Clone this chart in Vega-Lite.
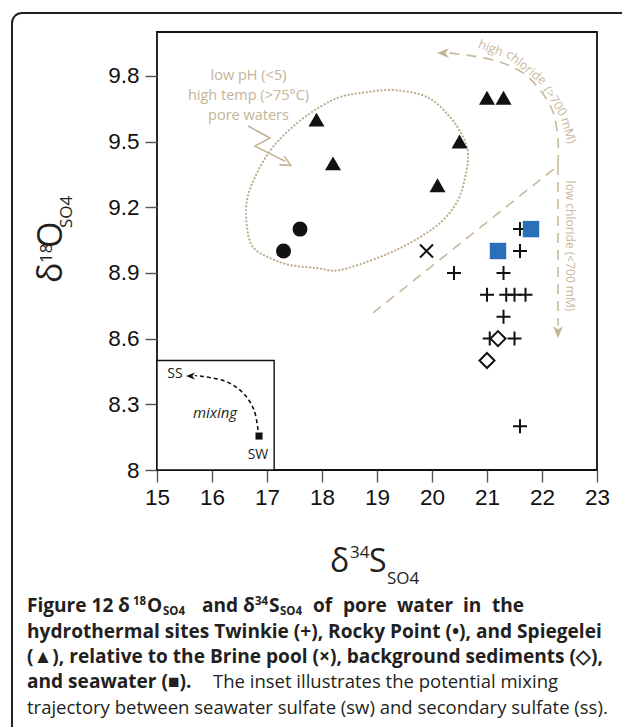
{
  "$schema": "https://vega.github.io/schema/vega-lite/v6.json",
  "width": 440,
  "height": 438,
  "autosize": {"type": "none"},
  "padding": {"left": 157, "top": 32, "right": 25, "bottom": 257},
  "background": "white",
  "config": {
    "view": {"stroke": "#111", "strokeWidth": 1.8},
    "text": {"font": "Open Sans", "color": "#231f20"}
  },
  "data": {"values": [{}]},
  "datasets": {
    "samples": [
      {"site": "Twinkie", "d34S": 21.6, "d18O": 9.1},
      {"site": "Twinkie", "d34S": 21.6, "d18O": 9.0},
      {"site": "Twinkie", "d34S": 20.4, "d18O": 8.9},
      {"site": "Twinkie", "d34S": 21.3, "d18O": 8.9},
      {"site": "Twinkie", "d34S": 21.0, "d18O": 8.8},
      {"site": "Twinkie", "d34S": 21.35, "d18O": 8.8},
      {"site": "Twinkie", "d34S": 21.5, "d18O": 8.8},
      {"site": "Twinkie", "d34S": 21.7, "d18O": 8.8},
      {"site": "Twinkie", "d34S": 21.3, "d18O": 8.7},
      {"site": "Twinkie", "d34S": 21.05, "d18O": 8.6},
      {"site": "Twinkie", "d34S": 21.5, "d18O": 8.6},
      {"site": "Twinkie", "d34S": 21.6, "d18O": 8.2},
      {"site": "Rocky Point", "d34S": 17.3, "d18O": 9.0},
      {"site": "Rocky Point", "d34S": 17.6, "d18O": 9.1},
      {"site": "Spiegelei", "d34S": 17.9, "d18O": 9.6},
      {"site": "Spiegelei", "d34S": 18.2, "d18O": 9.4},
      {"site": "Spiegelei", "d34S": 20.1, "d18O": 9.3},
      {"site": "Spiegelei", "d34S": 20.5, "d18O": 9.5},
      {"site": "Spiegelei", "d34S": 21.0, "d18O": 9.7},
      {"site": "Spiegelei", "d34S": 21.3, "d18O": 9.7},
      {"site": "Brine pool", "d34S": 19.9, "d18O": 9.0},
      {"site": "Background", "d34S": 21.2, "d18O": 8.6},
      {"site": "Background", "d34S": 21.0, "d18O": 8.5},
      {"site": "Seawater", "d34S": 21.8, "d18O": 9.1},
      {"site": "Seawater", "d34S": 21.2, "d18O": 9.0}
    ],
    "ellipse": [
      {"k": 0, "x": 18.691, "y": 9.721},
      {"k": 1, "x": 19.291, "y": 9.735},
      {"k": 2, "x": 19.909, "y": 9.703},
      {"k": 3, "x": 20.327, "y": 9.612},
      {"k": 4, "x": 20.564, "y": 9.521},
      {"k": 5, "x": 20.655, "y": 9.447},
      {"k": 6, "x": 20.618, "y": 9.356},
      {"k": 7, "x": 20.473, "y": 9.233},
      {"k": 8, "x": 20.145, "y": 9.128},
      {"k": 9, "x": 19.6, "y": 9.037},
      {"k": 10, "x": 19.055, "y": 8.973},
      {"k": 11, "x": 18.327, "y": 8.913},
      {"k": 12, "x": 17.909, "y": 8.922},
      {"k": 13, "x": 17.418, "y": 8.936},
      {"k": 14, "x": 17.055, "y": 8.968},
      {"k": 15, "x": 16.745, "y": 9.018},
      {"k": 16, "x": 16.636, "y": 9.11},
      {"k": 17, "x": 16.636, "y": 9.233},
      {"k": 18, "x": 16.818, "y": 9.356},
      {"k": 19, "x": 17.109, "y": 9.475},
      {"k": 20, "x": 17.545, "y": 9.584},
      {"k": 21, "x": 17.964, "y": 9.658},
      {"k": 22, "x": 18.327, "y": 9.703}
    ],
    "bolt": [
      {"k": 0, "x": 16.655, "y": 9.571},
      {"k": 1, "x": 17.055, "y": 9.516},
      {"k": 2, "x": 16.782, "y": 9.479},
      {"k": 3, "x": 17.33, "y": 9.41}
    ],
    "arcHigh": [
      {"k": 0, "x": 22.291, "y": 9.393},
      {"k": 1, "x": 22.291, "y": 9.507},
      {"k": 2, "x": 22.2, "y": 9.635},
      {"k": 3, "x": 21.964, "y": 9.735},
      {"k": 4, "x": 21.655, "y": 9.813},
      {"k": 5, "x": 21.236, "y": 9.863},
      {"k": 6, "x": 20.745, "y": 9.89},
      {"k": 7, "x": 20.3, "y": 9.904}
    ],
    "lineLow": [
      {"k": 0, "x": 22.291, "y": 9.393},
      {"k": 1, "x": 22.291, "y": 8.66}
    ],
    "divider": [
      {"k": 0, "x": 18.927, "y": 8.717},
      {"k": 1, "x": 22.236, "y": 9.379}
    ],
    "insetCurve": [
      {"k": 0, "x": 16.836, "y": 8.183},
      {"k": 1, "x": 16.764, "y": 8.274},
      {"k": 2, "x": 16.564, "y": 8.352},
      {"k": 3, "x": 16.236, "y": 8.406},
      {"k": 4, "x": 15.782, "y": 8.429},
      {"k": 5, "x": 15.69, "y": 8.429}
    ]
  },
  "layer": [
    {
      "mark": {"type": "rect", "fill": "transparent", "stroke": "#231f20", "strokeWidth": 2, "cornerRadius": 10},
      "encoding": {
        "x": {"datum": 12.364, "type": "quantitative", "title": null, "scale": {"domain": [15, 23], "nice": false, "zero": false},
          "axis": {"title": null, "values": [15, 16, 17, 18, 19, 20, 21, 22, 23], "format": "d", "domain": false, "grid": false, "tickColor": "#555", "tickWidth": 1.4, "tickSize": 12, "labelFont": "Liberation Sans", "labelFontSize": 22.5, "labelColor": "#111", "labelPadding": 4, "labelFlush": false, "labelOverlap": false, "labelBound": false}},
        "x2": {"datum": 24.9},
        "y": {"datum": 10.087, "type": "quantitative", "title": null, "scale": {"domain": [8, 10], "nice": false, "zero": false},
          "axis": {"title": null, "values": [8, 8.3, 8.6, 8.9, 9.2, 9.5, 9.8], "format": ".2~f", "domain": false, "grid": false, "tickColor": "#555", "tickWidth": 1.4, "tickSize": 12, "labelFont": "Liberation Sans", "labelFontSize": 22.5, "labelColor": "#111", "labelPadding": 6, "labelFlush": false, "labelOverlap": false, "labelBound": false}},
        "y2": {"datum": 6.49}
      }
    },
    {
      "mark": {"type": "rect", "fill": "white", "stroke": "#111", "strokeWidth": 1.4},
      "encoding": {
        "x": {"datum": 15, "type": "quantitative", "title": null, "scale": {"domain": [15, 23], "nice": false, "zero": false}},
        "x2": {"datum": 17.13},
        "y": {"datum": 8, "type": "quantitative", "title": null, "scale": {"domain": [8, 10], "nice": false, "zero": false}},
        "y2": {"datum": 8.5}
      }
    },
    {
      "data": {"name": "ellipse"},
      "mark": {"type": "line", "interpolate": "cardinal-closed", "color": "#bfae8e", "strokeWidth": 2.2, "strokeCap": "round", "strokeDash": [0.1, 3.6]},
      "encoding": {
        "x": {"field": "x", "type": "quantitative", "title": null, "scale": {"domain": [15, 23], "nice": false, "zero": false}},
        "y": {"field": "y", "type": "quantitative", "title": null, "scale": {"domain": [8, 10], "nice": false, "zero": false}},
        "order": {"field": "k"}
      }
    },
    {
      "data": {"name": "bolt"},
      "mark": {"type": "line", "color": "#c4b497", "strokeWidth": 1.6},
      "encoding": {
        "x": {"field": "x", "type": "quantitative", "title": null, "scale": {"domain": [15, 23], "nice": false, "zero": false}},
        "y": {"field": "y", "type": "quantitative", "title": null, "scale": {"domain": [8, 10], "nice": false, "zero": false}},
        "order": {"field": "k"}
      }
    },
    {
      "mark": {"type": "point", "shape": "M-1,1L0,-1L1,1", "filled": false, "stroke": "#c4b497", "strokeWidth": 1.6, "size": 100, "angle": 119, "opacity": 1},
      "encoding": {
        "x": {"datum": 17.35, "type": "quantitative", "title": null, "scale": {"domain": [15, 23], "nice": false, "zero": false}},
        "y": {"datum": 9.402, "type": "quantitative", "title": null, "scale": {"domain": [8, 10], "nice": false, "zero": false}}
      }
    },
    {
      "data": {"name": "arcHigh"},
      "mark": {"type": "line", "interpolate": "cardinal", "color": "#c9b99b", "strokeWidth": 1.6, "strokeDash": [10, 7]},
      "encoding": {
        "x": {"field": "x", "type": "quantitative", "title": null, "scale": {"domain": [15, 23], "nice": false, "zero": false}},
        "y": {"field": "y", "type": "quantitative", "title": null, "scale": {"domain": [8, 10], "nice": false, "zero": false}},
        "order": {"field": "k"}
      }
    },
    {
      "data": {"name": "lineLow"},
      "mark": {"type": "line", "color": "#c9b99b", "strokeWidth": 1.6, "strokeDash": [10, 7]},
      "encoding": {
        "x": {"field": "x", "type": "quantitative", "title": null, "scale": {"domain": [15, 23], "nice": false, "zero": false}},
        "y": {"field": "y", "type": "quantitative", "title": null, "scale": {"domain": [8, 10], "nice": false, "zero": false}},
        "order": {"field": "k"}
      }
    },
    {
      "data": {"name": "divider"},
      "mark": {"type": "line", "color": "#c9b99b", "strokeWidth": 1.6, "strokeDash": [10, 7]},
      "encoding": {
        "x": {"field": "x", "type": "quantitative", "title": null, "scale": {"domain": [15, 23], "nice": false, "zero": false}},
        "y": {"field": "y", "type": "quantitative", "title": null, "scale": {"domain": [8, 10], "nice": false, "zero": false}},
        "order": {"field": "k"}
      }
    },
    {
      "mark": {"type": "point", "shape": "M-1,0L1,-0.8L0.4,0L1,0.8Z", "filled": true, "fill": "#c4b497", "size": 150, "opacity": 1},
      "encoding": {
        "x": {"datum": 20.2, "type": "quantitative", "title": null, "scale": {"domain": [15, 23], "nice": false, "zero": false}},
        "y": {"datum": 9.904, "type": "quantitative", "title": null, "scale": {"domain": [8, 10], "nice": false, "zero": false}}
      }
    },
    {
      "mark": {"type": "point", "shape": "M-1,0L1,-0.8L0.4,0L1,0.8Z", "filled": true, "fill": "#c4b497", "size": 150, "angle": 270, "opacity": 1},
      "encoding": {
        "x": {"datum": 22.291, "type": "quantitative", "title": null, "scale": {"domain": [15, 23], "nice": false, "zero": false}},
        "y": {"datum": 8.63, "type": "quantitative", "title": null, "scale": {"domain": [8, 10], "nice": false, "zero": false}}
      }
    },
    {
      "mark": {"type": "text", "text": ["low pH (<5)", "high temp (>75°C)", "pore waters"], "lineHeight": 20, "fontSize": 14.5, "color": "#c4b497", "align": "center", "baseline": "middle"},
      "encoding": {
        "x": {"datum": 16.664, "type": "quantitative", "title": null, "scale": {"domain": [15, 23], "nice": false, "zero": false}},
        "y": {"datum": 9.799, "type": "quantitative", "title": null, "scale": {"domain": [8, 10], "nice": false, "zero": false}}
      }
    },
    {
      "mark": {"type": "text", "text": "high", "fontSize": 12.5, "color": "#c9b99b", "align": "center", "baseline": "middle", "angle": 20.5},
      "encoding": {
        "x": {"datum": 21.069, "type": "quantitative", "title": null, "scale": {"domain": [15, 23], "nice": false, "zero": false}},
        "y": {"datum": 9.926, "type": "quantitative", "title": null, "scale": {"domain": [8, 10], "nice": false, "zero": false}}
      }
    },
    {
      "mark": {"type": "text", "text": "chloride", "fontSize": 12.5, "color": "#c9b99b", "align": "center", "baseline": "middle", "angle": 38.8},
      "encoding": {
        "x": {"datum": 21.713, "type": "quantitative", "title": null, "scale": {"domain": [15, 23], "nice": false, "zero": false}},
        "y": {"datum": 9.838, "type": "quantitative", "title": null, "scale": {"domain": [8, 10], "nice": false, "zero": false}}
      }
    },
    {
      "mark": {"type": "text", "text": "(>700", "fontSize": 12.5, "color": "#c9b99b", "align": "center", "baseline": "middle", "angle": 58.5},
      "encoding": {
        "x": {"datum": 22.238, "type": "quantitative", "title": null, "scale": {"domain": [15, 23], "nice": false, "zero": false}},
        "y": {"datum": 9.684, "type": "quantitative", "title": null, "scale": {"domain": [8, 10], "nice": false, "zero": false}}
      }
    },
    {
      "mark": {"type": "text", "text": "mM)", "fontSize": 12.5, "color": "#c9b99b", "align": "center", "baseline": "middle", "angle": 73},
      "encoding": {
        "x": {"datum": 22.48, "type": "quantitative", "title": null, "scale": {"domain": [15, 23], "nice": false, "zero": false}},
        "y": {"datum": 9.55, "type": "quantitative", "title": null, "scale": {"domain": [8, 10], "nice": false, "zero": false}}
      }
    },
    {
      "mark": {"type": "text", "text": "low chloride (<700 mM)", "fontSize": 12, "color": "#c9b99b", "align": "center", "baseline": "middle", "angle": 90},
      "encoding": {
        "x": {"datum": 22.509, "type": "quantitative", "title": null, "scale": {"domain": [15, 23], "nice": false, "zero": false}},
        "y": {"datum": 9.023, "type": "quantitative", "title": null, "scale": {"domain": [8, 10], "nice": false, "zero": false}}
      }
    },
    {
      "data": {"name": "insetCurve"},
      "mark": {"type": "line", "interpolate": "cardinal", "color": "#111", "strokeWidth": 1.6, "strokeDash": [4, 3]},
      "encoding": {
        "x": {"field": "x", "type": "quantitative", "title": null, "scale": {"domain": [15, 23], "nice": false, "zero": false}},
        "y": {"field": "y", "type": "quantitative", "title": null, "scale": {"domain": [8, 10], "nice": false, "zero": false}},
        "order": {"field": "k"}
      }
    },
    {
      "mark": {"type": "point", "shape": "M-1,0L1,-0.8L0.4,0L1,0.8Z", "filled": true, "fill": "#111", "size": 80, "opacity": 1},
      "encoding": {
        "x": {"datum": 15.61, "type": "quantitative", "title": null, "scale": {"domain": [15, 23], "nice": false, "zero": false}},
        "y": {"datum": 8.429, "type": "quantitative", "title": null, "scale": {"domain": [8, 10], "nice": false, "zero": false}}
      }
    },
    {
      "mark": {"type": "point", "shape": "square", "filled": true, "fill": "#111", "size": 50, "opacity": 1},
      "encoding": {
        "x": {"datum": 16.855, "type": "quantitative", "title": null, "scale": {"domain": [15, 23], "nice": false, "zero": false}},
        "y": {"datum": 8.155, "type": "quantitative", "title": null, "scale": {"domain": [8, 10], "nice": false, "zero": false}}
      }
    },
    {
      "mark": {"type": "text", "text": "SS", "fontSize": 14, "align": "center", "baseline": "middle"},
      "encoding": {
        "x": {"datum": 15.327, "type": "quantitative", "title": null, "scale": {"domain": [15, 23], "nice": false, "zero": false}},
        "y": {"datum": 8.438, "type": "quantitative", "title": null, "scale": {"domain": [8, 10], "nice": false, "zero": false}}
      }
    },
    {
      "mark": {"type": "text", "text": "mixing", "fontSize": 15, "fontStyle": "italic", "align": "center", "baseline": "middle"},
      "encoding": {
        "x": {"datum": 16.055, "type": "quantitative", "title": null, "scale": {"domain": [15, 23], "nice": false, "zero": false}},
        "y": {"datum": 8.26, "type": "quantitative", "title": null, "scale": {"domain": [8, 10], "nice": false, "zero": false}}
      }
    },
    {
      "mark": {"type": "text", "text": "SW", "fontSize": 14, "align": "center", "baseline": "middle"},
      "encoding": {
        "x": {"datum": 16.836, "type": "quantitative", "title": null, "scale": {"domain": [15, 23], "nice": false, "zero": false}},
        "y": {"datum": 8.068, "type": "quantitative", "title": null, "scale": {"domain": [8, 10], "nice": false, "zero": false}}
      }
    },
    {
      "data": {"name": "samples"},
      "transform": [{"filter": "datum.site === 'Twinkie'"}],
      "mark": {"type": "point", "shape": "M-1,0H1M0,-1V1", "filled": false, "stroke": "#111", "strokeWidth": 2, "size": 196, "opacity": 1},
      "encoding": {
        "x": {"field": "d34S", "type": "quantitative", "title": null, "scale": {"domain": [15, 23], "nice": false, "zero": false}},
        "y": {"field": "d18O", "type": "quantitative", "title": null, "scale": {"domain": [8, 10], "nice": false, "zero": false}}
      }
    },
    {
      "data": {"name": "samples"},
      "transform": [{"filter": "datum.site === 'Rocky Point'"}],
      "mark": {"type": "point", "shape": "circle", "filled": true, "fill": "#111", "size": 225, "opacity": 1},
      "encoding": {
        "x": {"field": "d34S", "type": "quantitative", "title": null, "scale": {"domain": [15, 23], "nice": false, "zero": false}},
        "y": {"field": "d18O", "type": "quantitative", "title": null, "scale": {"domain": [8, 10], "nice": false, "zero": false}}
      }
    },
    {
      "data": {"name": "samples"},
      "transform": [{"filter": "datum.site === 'Spiegelei'"}],
      "mark": {"type": "point", "shape": "triangle-up", "filled": true, "fill": "#111", "size": 256, "opacity": 1},
      "encoding": {
        "x": {"field": "d34S", "type": "quantitative", "title": null, "scale": {"domain": [15, 23], "nice": false, "zero": false}},
        "y": {"field": "d18O", "type": "quantitative", "title": null, "scale": {"domain": [8, 10], "nice": false, "zero": false}}
      }
    },
    {
      "data": {"name": "samples"},
      "transform": [{"filter": "datum.site === 'Brine pool'"}],
      "mark": {"type": "point", "shape": "M-1,-1L1,1M-1,1L1,-1", "filled": false, "stroke": "#111", "strokeWidth": 2, "size": 169, "opacity": 1},
      "encoding": {
        "x": {"field": "d34S", "type": "quantitative", "title": null, "scale": {"domain": [15, 23], "nice": false, "zero": false}},
        "y": {"field": "d18O", "type": "quantitative", "title": null, "scale": {"domain": [8, 10], "nice": false, "zero": false}}
      }
    },
    {
      "data": {"name": "samples"},
      "transform": [{"filter": "datum.site === 'Background'"}],
      "mark": {"type": "point", "shape": "M0,-1L1,0L0,1L-1,0Z", "filled": true, "fill": "white", "stroke": "#111", "strokeWidth": 2, "size": 225, "opacity": 1},
      "encoding": {
        "x": {"field": "d34S", "type": "quantitative", "title": null, "scale": {"domain": [15, 23], "nice": false, "zero": false}},
        "y": {"field": "d18O", "type": "quantitative", "title": null, "scale": {"domain": [8, 10], "nice": false, "zero": false}}
      }
    },
    {
      "data": {"name": "samples"},
      "transform": [{"filter": "datum.site === 'Seawater'"}],
      "mark": {"type": "point", "shape": "square", "filled": true, "fill": "#2a70b8", "size": 270, "opacity": 1},
      "encoding": {
        "x": {"field": "d34S", "type": "quantitative", "title": null, "scale": {"domain": [15, 23], "nice": false, "zero": false}},
        "y": {"field": "d18O", "type": "quantitative", "title": null, "scale": {"domain": [8, 10], "nice": false, "zero": false}}
      }
    },
    {
      "layer": [
        {"mark": {"type": "text", "text": "δ", "fontSize": 34, "angle": 270, "align": "left", "baseline": "alphabetic"},
          "encoding": {"x": {"datum": 13.273, "type": "quantitative", "title": null}, "y": {"datum": 8.854, "type": "quantitative", "title": null}}},
        {"mark": {"type": "text", "text": "18", "fontSize": 17, "angle": 270, "align": "left", "baseline": "alphabetic"},
          "encoding": {"x": {"datum": 13.091, "type": "quantitative", "title": null}, "y": {"datum": 8.945, "type": "quantitative", "title": null}}},
        {"mark": {"type": "text", "text": "O", "fontSize": 34, "angle": 270, "align": "left", "baseline": "alphabetic"},
          "encoding": {"x": {"datum": 13.273, "type": "quantitative", "title": null}, "y": {"datum": 9.014, "type": "quantitative", "title": null}}},
        {"mark": {"type": "text", "text": "SO4", "fontSize": 17, "angle": 270, "align": "left", "baseline": "alphabetic"},
          "encoding": {"x": {"datum": 13.455, "type": "quantitative", "title": null}, "y": {"datum": 9.105, "type": "quantitative", "title": null}}},
        {"mark": {"type": "text", "text": "δ", "fontSize": 32, "align": "left", "baseline": "alphabetic"},
          "encoding": {"x": {"datum": 18.145, "type": "quantitative", "title": null}, "y": {"datum": 7.534, "type": "quantitative", "title": null}}},
        {"mark": {"type": "text", "text": "34", "fontSize": 17, "align": "left", "baseline": "alphabetic"},
          "encoding": {"x": {"datum": 18.509, "type": "quantitative", "title": null}, "y": {"datum": 7.598, "type": "quantitative", "title": null}}},
        {"mark": {"type": "text", "text": "S", "fontSize": 32, "align": "left", "baseline": "alphabetic"},
          "encoding": {"x": {"datum": 18.855, "type": "quantitative", "title": null}, "y": {"datum": 7.534, "type": "quantitative", "title": null}}},
        {"mark": {"type": "text", "text": "SO4", "fontSize": 17, "align": "left", "baseline": "alphabetic"},
          "encoding": {"x": {"datum": 19.182, "type": "quantitative", "title": null}, "y": {"datum": 7.479, "type": "quantitative", "title": null}}},
        {"mark": {"type": "text", "text": "Figure 12", "fontSize": 19.1, "fontWeight": "bold", "align": "left", "baseline": "alphabetic"},
          "encoding": {"x": {"datum": 12.636, "type": "quantitative", "title": null}, "y": {"datum": 7.352, "type": "quantitative", "title": null}}},
        {"mark": {"type": "text", "text": "δ", "fontSize": 19.1, "fontWeight": "bold", "align": "left", "baseline": "alphabetic"},
          "encoding": {"x": {"datum": 14.291, "type": "quantitative", "title": null}, "y": {"datum": 7.352, "type": "quantitative", "title": null}}},
        {"mark": {"type": "text", "text": "18", "fontSize": 11.5, "fontWeight": "bold", "align": "left", "baseline": "alphabetic"},
          "encoding": {"x": {"datum": 14.564, "type": "quantitative", "title": null}, "y": {"datum": 7.384, "type": "quantitative", "title": null}}},
        {"mark": {"type": "text", "text": "O", "fontSize": 19.1, "fontWeight": "bold", "align": "left", "baseline": "alphabetic"},
          "encoding": {"x": {"datum": 14.818, "type": "quantitative", "title": null}, "y": {"datum": 7.352, "type": "quantitative", "title": null}}},
        {"mark": {"type": "text", "text": "SO4", "fontSize": 11.5, "fontWeight": "bold", "align": "left", "baseline": "alphabetic"},
          "encoding": {"x": {"datum": 15.109, "type": "quantitative", "title": null}, "y": {"datum": 7.338, "type": "quantitative", "title": null}}},
        {"mark": {"type": "text", "text": "and", "fontSize": 19.1, "fontWeight": "bold", "align": "left", "baseline": "alphabetic"},
          "encoding": {"x": {"datum": 15.818, "type": "quantitative", "title": null}, "y": {"datum": 7.352, "type": "quantitative", "title": null}}},
        {"mark": {"type": "text", "text": "δ", "fontSize": 19.1, "fontWeight": "bold", "align": "left", "baseline": "alphabetic"},
          "encoding": {"x": {"datum": 16.564, "type": "quantitative", "title": null}, "y": {"datum": 7.352, "type": "quantitative", "title": null}}},
        {"mark": {"type": "text", "text": "34", "fontSize": 11.5, "fontWeight": "bold", "align": "left", "baseline": "alphabetic"},
          "encoding": {"x": {"datum": 16.782, "type": "quantitative", "title": null}, "y": {"datum": 7.384, "type": "quantitative", "title": null}}},
        {"mark": {"type": "text", "text": "S", "fontSize": 19.1, "fontWeight": "bold", "align": "left", "baseline": "alphabetic"},
          "encoding": {"x": {"datum": 17.036, "type": "quantitative", "title": null}, "y": {"datum": 7.352, "type": "quantitative", "title": null}}},
        {"mark": {"type": "text", "text": "SO4", "fontSize": 11.5, "fontWeight": "bold", "align": "left", "baseline": "alphabetic"},
          "encoding": {"x": {"datum": 17.236, "type": "quantitative", "title": null}, "y": {"datum": 7.338, "type": "quantitative", "title": null}}},
        {"mark": {"type": "text", "text": "of", "fontSize": 19.1, "fontWeight": "bold", "align": "left", "baseline": "alphabetic"},
          "encoding": {"x": {"datum": 17.836, "type": "quantitative", "title": null}, "y": {"datum": 7.352, "type": "quantitative", "title": null}}},
        {"mark": {"type": "text", "text": "pore", "fontSize": 19.1, "fontWeight": "bold", "align": "left", "baseline": "alphabetic"},
          "encoding": {"x": {"datum": 18.382, "type": "quantitative", "title": null}, "y": {"datum": 7.352, "type": "quantitative", "title": null}}},
        {"mark": {"type": "text", "text": "water", "fontSize": 19.1, "fontWeight": "bold", "align": "left", "baseline": "alphabetic"},
          "encoding": {"x": {"datum": 19.364, "type": "quantitative", "title": null}, "y": {"datum": 7.352, "type": "quantitative", "title": null}}},
        {"mark": {"type": "text", "text": "in", "fontSize": 19.1, "fontWeight": "bold", "align": "left", "baseline": "alphabetic"},
          "encoding": {"x": {"datum": 20.564, "type": "quantitative", "title": null}, "y": {"datum": 7.352, "type": "quantitative", "title": null}}},
        {"mark": {"type": "text", "text": "the", "fontSize": 19.1, "fontWeight": "bold", "align": "left", "baseline": "alphabetic"},
          "encoding": {"x": {"datum": 21.091, "type": "quantitative", "title": null}, "y": {"datum": 7.352, "type": "quantitative", "title": null}}},
        {"mark": {"type": "text", "text": "hydrothermal sites Twinkie (+), Rocky Point (•), and Spiegelei", "fontSize": 19.1, "fontWeight": "bold", "align": "left", "baseline": "alphabetic"},
          "encoding": {"x": {"datum": 12.636, "type": "quantitative", "title": null}, "y": {"datum": 7.233, "type": "quantitative", "title": null}}},
        {"mark": {"type": "text", "text": "(▲), relative to the Brine pool (×), background sediments (◇),", "fontSize": 19.1, "fontWeight": "bold", "align": "left", "baseline": "alphabetic"},
          "encoding": {"x": {"datum": 12.636, "type": "quantitative", "title": null}, "y": {"datum": 7.119, "type": "quantitative", "title": null}}},
        {"mark": {"type": "text", "text": "and seawater (■).", "fontSize": 19.1, "fontWeight": "bold", "align": "left", "baseline": "alphabetic"},
          "encoding": {"x": {"datum": 12.636, "type": "quantitative", "title": null}, "y": {"datum": 7.005, "type": "quantitative", "title": null}}},
        {"mark": {"type": "text", "text": "The inset illustrates the potential mixing", "fontSize": 18.5, "align": "left", "baseline": "alphabetic"},
          "encoding": {"x": {"datum": 16.018, "type": "quantitative", "title": null}, "y": {"datum": 7.005, "type": "quantitative", "title": null}}},
        {"mark": {"type": "text", "text": "trajectory between seawater sulfate (sw) and secondary sulfate (ss).", "fontSize": 18.5, "align": "left", "baseline": "alphabetic"},
          "encoding": {"x": {"datum": 12.636, "type": "quantitative", "title": null}, "y": {"datum": 6.886, "type": "quantitative", "title": null}}}
      ]
    }
  ]
}
